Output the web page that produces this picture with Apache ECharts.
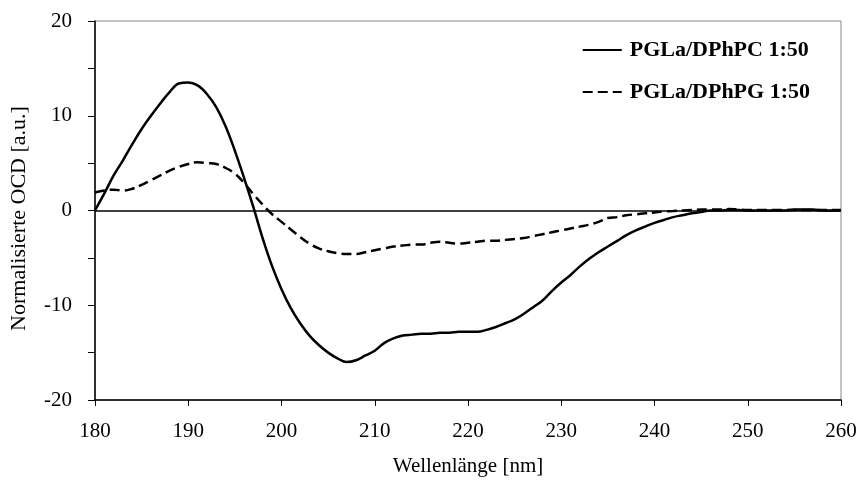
<!DOCTYPE html>
<html>
<head>
<meta charset="utf-8">
<script src="https://cdn.jsdelivr.net/npm/echarts@6/dist/echarts.min.js"></script>
<style>
  html, body { margin: 0; padding: 0; background: #fff; }
  #main { width: 856px; height: 481px; }
</style>
</head>
<body>
<div id="main"></div>
<script>
// Wellenlänge in nm, Schritt 1 nm
var wavelengths = [];
for (var w = 180; w <= 260; w++) wavelengths.push(w);

// PGLa/DPhPC 1:50 (durchgezogen)
var ocdPC = [
  0, 1.8, 3.7, 5.3, 7.0, 8.6, 10.0, 11.3, 12.5, 13.4,
  13.5, 13.2, 12.3, 10.9, 8.9, 6.3, 3.4, 0.3, -3.0, -5.9,
  -8.3, -10.3, -11.9, -13.2, -14.2, -15.0, -15.6, -16.0, -15.8, -15.3,
  -14.8, -14.0, -13.5, -13.2, -13.1, -13.0, -13.0, -12.9, -12.9, -12.8,
  -12.8, -12.8, -12.6, -12.3, -11.9, -11.5, -10.9, -10.2, -9.5, -8.5,
  -7.6, -6.8, -5.9, -5.1, -4.4, -3.8, -3.2, -2.6, -2.1, -1.7,
  -1.3, -1.0, -0.7, -0.5, -0.3, -0.15, 0, 0, 0.05, 0.05,
  0, 0, 0, 0, 0, 0.1, 0.1, 0.1, 0, 0, 0
];

// PGLa/DPhPG 1:50 (gestrichelt)
var ocdPG = [
  1.9, 2.1, 2.2, 2.1, 2.3, 2.7, 3.2, 3.7, 4.2, 4.6,
  4.9, 5.1, 5.0, 4.9, 4.5, 3.9, 2.9, 1.7, 0.6, -0.4,
  -1.2, -2.0, -2.8, -3.5, -4.0, -4.3, -4.5, -4.6, -4.6, -4.4,
  -4.2, -4.0, -3.8, -3.7, -3.6, -3.6, -3.4, -3.3, -3.4, -3.5,
  -3.4, -3.3, -3.2, -3.2, -3.1, -3.0, -2.9, -2.7, -2.5, -2.3,
  -2.1, -1.9, -1.7, -1.5, -1.2, -0.8, -0.7, -0.5, -0.4, -0.3,
  -0.2, -0.1, -0.05, 0, 0.05, 0.1, 0.1, 0.1, 0.15, 0.1,
  0.05, 0.05, 0.05, 0.05, 0.05, 0.05, 0.05, 0.05, 0.05, 0.05, 0.05
];

var seriesNames = ['PGLa/DPhPC 1:50', 'PGLa/DPhPG 1:50'];

function pairs(ys) {
  return wavelengths.map(function (x, i) { return [x, ys[i]]; });
}

var font = '"Liberation Serif", "Times New Roman", serif';

var chart = echarts.init(document.getElementById('main'));
chart.setOption({
  animation: false,
  textStyle: { fontFamily: font },
  grid: {
    left: 95, right: 15, top: 21, bottom: 81,
    outerBoundsMode: 'none',
    containLabel: false,
    show: true, borderColor: '#888', borderWidth: 1
  },
  legend: {
    right: 41, top: 34,
    orient: 'vertical',
    itemGap: 20,
    itemWidth: 39,
    itemHeight: 14,
    itemStyle: { color: 'rgba(0,0,0,0)', borderWidth: 0, opacity: 0 },
    textStyle: { fontFamily: font, fontWeight: 'bold', fontSize: 22, color: '#000', padding: [0, 0, 0, 3] },
    data: seriesNames
  },
  xAxis: {
    type: 'value',
    min: 180, max: 260, interval: 10,
    name: 'Wellenlänge [nm]',
    nameLocation: 'middle',
    nameGap: 56,
    nameTextStyle: { fontFamily: font, fontSize: 21, color: '#000' },
    axisLine: { onZero: false, lineStyle: { color: '#000', width: 1.5 } },
    axisTick: { show: true, length: 6, lineStyle: { color: '#000' } },
    axisLabel: { fontFamily: font, fontSize: 21, color: '#000', margin: 21 },
    splitLine: { show: false }
  },
  yAxis: {
    type: 'value',
    min: -20, max: 20, interval: 10,
    name: 'Normalisierte OCD [a.u.]',
    nameLocation: 'middle',
    nameGap: 65,
    nameTextStyle: { fontFamily: font, fontSize: 22, color: '#000', padding: [0, 16, 0, 0] },
    axisLine: { show: true, lineStyle: { color: '#000', width: 1.5 } },
    axisTick: { show: true, length: 7, lineStyle: { color: '#000' } },
    minorTick: { show: true, splitNumber: 2, length: 7, lineStyle: { color: '#000' } },
    axisLabel: { fontFamily: font, fontSize: 21, color: '#000', margin: 23 },
    splitLine: { show: false }
  },
  series: [
    {
      name: seriesNames[0],
      type: 'line',
      data: pairs(ocdPC),
      showSymbol: false,
      symbol: 'none',
      smooth: 0.4,
      lineStyle: { color: '#000', width: 2.5 },
      itemStyle: { color: '#000' },
      markLine: {
        silent: true,
        symbol: 'none',
        label: { show: false },
        lineStyle: { color: '#000', width: 1.5, type: 'solid' },
        data: [{ yAxis: 0 }]
      }
    },
    {
      name: seriesNames[1],
      type: 'line',
      data: pairs(ocdPG),
      showSymbol: false,
      symbol: 'none',
      smooth: 0.4,
      lineStyle: { color: '#000', width: 2.5, type: [10, 5] },
      itemStyle: { color: '#000' }
    }
  ]
});
</script>
</body>
</html>
